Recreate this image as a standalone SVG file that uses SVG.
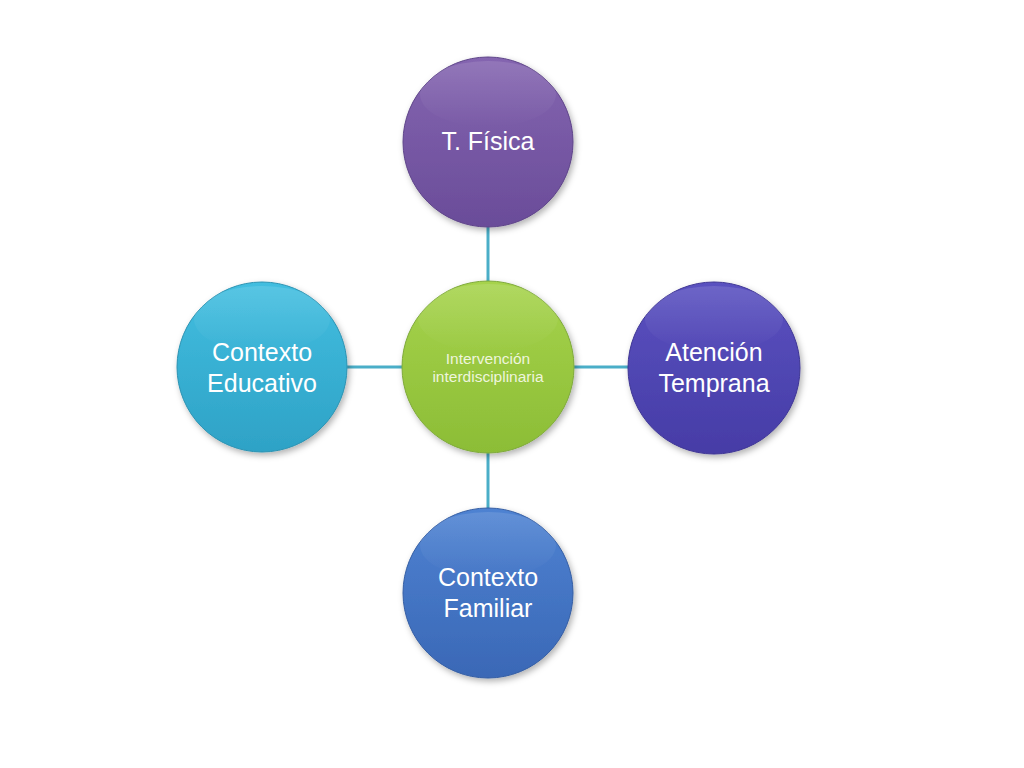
<svg xmlns="http://www.w3.org/2000/svg" width="1024" height="768" viewBox="0 0 1024 768">
<defs>
<style>
.lbl{font-family:"Liberation Sans","Open Sans",Arial,sans-serif;font-size:25px;fill:#ffffff;text-anchor:middle}
.sm{font-family:"Liberation Sans","Open Sans",Arial,sans-serif;font-size:15.5px;fill:#eef5dc;text-anchor:middle}
.conn{stroke:#4aaec8;stroke-width:3;fill:none}
.node{stroke-width:1}
</style>
<filter id="sh" x="-20%" y="-20%" width="150%" height="150%">
<feDropShadow dx="2" dy="3" stdDeviation="3" flood-color="#000" flood-opacity="0.3"/>
</filter>
<linearGradient id="gPurple" x1="0" y1="0" x2="0" y2="1"><stop offset="0" stop-color="#8465b0"/><stop offset="1" stop-color="#6a4c99"/></linearGradient>
<linearGradient id="gGreen" x1="0" y1="0" x2="0" y2="1"><stop offset="0" stop-color="#a6d34c"/><stop offset="1" stop-color="#8cbd36"/></linearGradient>
<linearGradient id="gIndigo" x1="0" y1="0" x2="0" y2="1"><stop offset="0" stop-color="#5a51c0"/><stop offset="1" stop-color="#463ca6"/></linearGradient>
<linearGradient id="gBlue" x1="0" y1="0" x2="0" y2="1"><stop offset="0" stop-color="#4e82d2"/><stop offset="1" stop-color="#3a68b6"/></linearGradient>
<linearGradient id="gCyan" x1="0" y1="0" x2="0" y2="1"><stop offset="0" stop-color="#42bee0"/><stop offset="1" stop-color="#2ea2c6"/></linearGradient>
<linearGradient id="gloss" x1="0" y1="0" x2="0" y2="1"><stop offset="0" stop-color="#fff" stop-opacity="0.12"/><stop offset="1" stop-color="#fff" stop-opacity="0"/></linearGradient>
</defs>
<rect width="1024" height="768" fill="#ffffff"/>
<g id="connectors">
<line class="conn" x1="488" y1="226" x2="488" y2="283"/>
<line class="conn" x1="345" y1="367" x2="404" y2="367"/>
<line class="conn" x1="572" y1="367" x2="630" y2="367"/>
<line class="conn" x1="488" y1="451" x2="488" y2="509"/>
</g>
<g id="node-center">
<circle cx="488" cy="367" r="86" fill="url(#gGreen)" stroke="#7ea93a" class="node" filter="url(#sh)"/>
<ellipse cx="488" cy="318" rx="70" ry="34" fill="url(#gloss)"/>
<text class="sm" x="488" y="364">Intervención</text>
<text class="sm" x="488" y="382">interdisciplinaria</text>
</g>
<g id="node-top">
<circle cx="488" cy="142" r="85" fill="url(#gPurple)" stroke="#5d4388" class="node" filter="url(#sh)"/>
<ellipse cx="488" cy="94" rx="68" ry="33" fill="url(#gloss)"/>
<text class="lbl" x="488" y="150">T. Física</text>
</g>
<g id="node-right">
<circle cx="714" cy="368" r="86" fill="url(#gIndigo)" stroke="#3e3594" class="node" filter="url(#sh)"/>
<ellipse cx="714" cy="319" rx="69" ry="33" fill="url(#gloss)"/>
<text class="lbl" x="714" y="361">Atención</text>
<text class="lbl" x="714" y="392">Temprana</text>
</g>
<g id="node-bottom">
<circle cx="488" cy="593" r="85" fill="url(#gBlue)" stroke="#345da3" class="node" filter="url(#sh)"/>
<ellipse cx="488" cy="545" rx="68" ry="33" fill="url(#gloss)"/>
<text class="lbl" x="488" y="586">Contexto</text>
<text class="lbl" x="488" y="617">Familiar</text>
</g>
<g id="node-left">
<circle cx="262" cy="367" r="85" fill="url(#gCyan)" stroke="#2a92b2" class="node" filter="url(#sh)"/>
<ellipse cx="262" cy="319" rx="68" ry="33" fill="url(#gloss)"/>
<text class="lbl" x="262" y="361">Contexto</text>
<text class="lbl" x="262" y="392">Educativo</text>
</g>
</svg>
